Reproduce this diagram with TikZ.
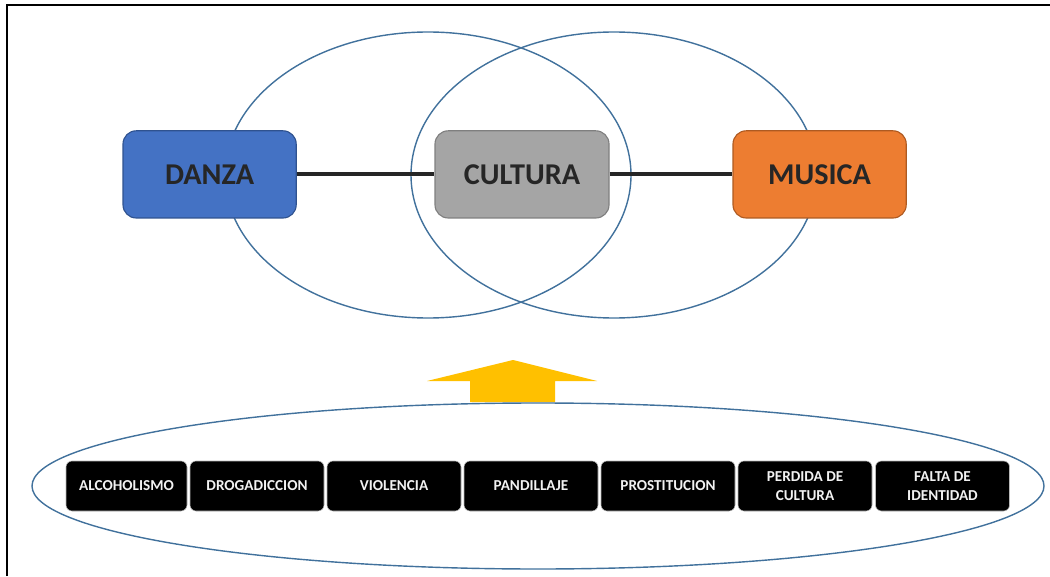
\documentclass[tikz,border=0pt]{standalone}
\usepackage{fontspec}
\setmainfont{Carlito}
\usetikzlibrary{arrows.meta, positioning}
\definecolor{DanzaBlue}{HTML}{4472C4}
\definecolor{DanzaEdge}{HTML}{2F528F}
\definecolor{CulturaGray}{HTML}{A5A5A5}
\definecolor{CulturaEdge}{HTML}{7F7F7F}
\definecolor{MusicaOrange}{HTML}{ED7D31}
\definecolor{MusicaEdge}{HTML}{AE5A21}
\definecolor{RingBlue}{HTML}{41719C}
\definecolor{ArrowGold}{HTML}{FFC000}
\definecolor{DarkText}{HTML}{262626}

\begin{document}
\begin{tikzpicture}[
    every node/.style={font=\bfseries},
    box/.style={rectangle, rounded corners=0.33cm, line width=0.8pt, minimum width=4.33cm, minimum height=2.18cm, align=center, text=DarkText, font=\fontsize{21.5}{25}\selectfont\bfseries},
    issue/.style={rectangle, rounded corners=0.15cm, fill=black, draw=gray!55, line width=0.4pt, minimum width=3.35cm, minimum height=1.25cm, align=center, text=white!95!black, font=\fontsize{10.8}{13.5}\selectfont\bfseries},
    ring/.style={draw=RingBlue, line width=1pt},
    link/.style={line width=2.8pt, draw=DarkText}
  ]
    \useasboundingbox (0,0) rectangle (26.25,14.4);
    \draw[line width=1.4pt] (0.175,0) -- (0.175,14.275) -- (26.25,14.275);
    % two rings round the middle
    \draw[ring] (10.7,10.025) ellipse [x radius=5.075, y radius=3.575];
    \draw[ring] (15.35,10.025) ellipse [x radius=5.075, y radius=3.575];
    \node[box, fill=DanzaBlue, draw=DanzaEdge] (n1) at (5.24,10.04) {DANZA};
    \node[box, fill=CulturaGray, draw=CulturaEdge, minimum width=4.35cm] (n2) at (13.05,10.04) {CULTURA};
    \node[box, fill=MusicaOrange, draw=MusicaEdge] (n3) at (20.49,10.04) {MUSICA};
    \draw[link] (n1) -- (n2);
    \draw[link] (n2) -- (n3);
    % arrow up
    \fill[ArrowGold] (11.75,4.35) -- (11.75,4.875) -- (10.675,4.875) -- (12.825,5.4) -- (14.925,4.875) -- (13.875,4.875) -- (13.875,4.35) -- cycle;
    \draw[ring] (13.45,2.25) ellipse [x radius=12.65, y radius=2.075];
    \node[issue, minimum width=3.025cm] (p1) at (3.1625,2.25) {ALCOHOLISMO};
    \node[issue] (p2) at (6.425,2.25) {DROGADICCION};
    \node[issue] (p3) at (9.85,2.25) {VIOLENCIA};
    \node[issue] (p4) at (13.275,2.25) {PANDILLAJE};
    \node[issue] (p5) at (16.7,2.25) {PROSTITUCION};
    \node[issue] (p6) at (20.125,2.25) {PERDIDA DE\\CULTURA};
    \node[issue] (p7) at (23.5625,2.25) {FALTA DE\\IDENTIDAD};
  \end{tikzpicture}
\end{document}
